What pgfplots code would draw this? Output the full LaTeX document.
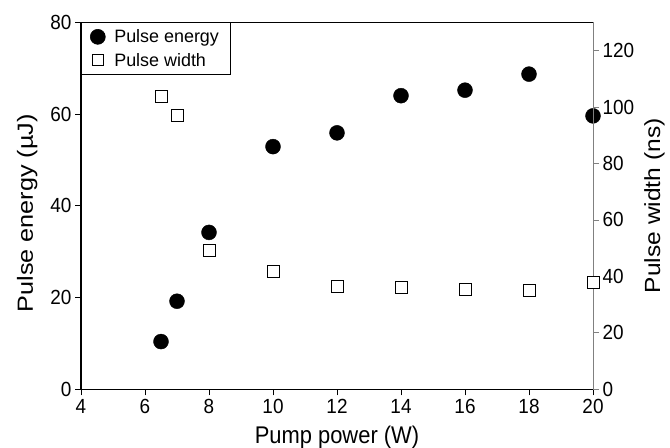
\documentclass[border=0pt]{standalone}
\usepackage{fontspec}
\setmainfont{Liberation Sans}
\usepackage{pgfplots}
\pgfplotsset{compat=1.18}
\begin{document}
\begin{tikzpicture}[x=1bp,y=1bp]
\useasboundingbox (0,0) rectangle (670,448);
\begin{axis}[
  at={(81bp,58.7bp)}, anchor=south west,
  scale only axis, width=512bp, height=367bp,
  xmin=4, xmax=20, ymin=0, ymax=80,
  xtick={4,6,...,20}, ytick={0,20,...,80},
  axis x line*=bottom, axis y line*=left,
  axis line style={line width=1.3bp, -},
  tick align=outside, major tick length=6bp,
  tick style={black, line width=0.8bp},
  /pgf/number format/assume math mode=true,
  tick label style={font=\fontsize{19}{22}\selectfont, yscale=1.08},
  xlabel={Pump power (W)}, ylabel={Pulse energy (µJ)},
  label style={font=\fontsize{22}{26}\selectfont},
  xlabel style={at={(axis description cs:0.5,-0.13)}, anchor=center, yscale=1.1},
  ylabel style={at={(axis description cs:-0.105,0.48)}, anchor=center, xscale=1.15},
  legend style={at={(0,1)}, anchor=north west, draw=black, line width=0.6bp,
    font=\fontsize{18}{21}\selectfont, inner xsep=9bp, inner ysep=5bp,
    row sep=5bp, column sep=7bp, cells={anchor=west}},
  legend cell align=left,
]
\addplot[only marks, mark=*, mark size=7.5bp, black] coordinates {
 (6.5,10.4) (7,19.2) (8,34.2) (10,52.9) (12,55.9) (14,64.0) (16,65.2) (18,68.7) (20,59.6)};
\addlegendentry{Pulse energy}
\addlegendimage{only marks, mark=square, mark size=5.5bp, black, mark options={line width=0.9bp}}
\addlegendentry{Pulse width}
\end{axis}
\begin{axis}[
  at={(81bp,58.7bp)}, anchor=south west,
  scale only axis, width=512bp, height=367bp,
  xmin=4, xmax=20, ymin=0, ymax=130,
  xtick=\empty, ytick={0,20,...,120},
  axis x line*=top, axis y line*=right,
  x axis line style={black, line width=0.8bp, -},
  y axis line style={gray, line width=0.8bp, -},
  tick align=outside, major tick length=6bp,
  tick style={gray, line width=0.8bp},
  /pgf/number format/assume math mode=true,
  tick label style={font=\fontsize{19}{22}\selectfont, yscale=1.08},
  ylabel={Pulse width (ns)},
  label style={font=\fontsize{22}{26}\selectfont},
  ylabel style={at={(axis description cs:1.12,0.5)}, anchor=center, xscale=1.12},
  clip=false,
]
\addplot[only marks, mark=square*, mark size=6bp, black, fill=white, mark options={line width=0.9bp, fill=white}] coordinates {
 (6.5,103.8) (7,96.9) (8,49.3) (10,41.8) (12,36.5) (14,36.0) (16,35.4) (18,34.9) (20,37.9)};
\end{axis}
\end{tikzpicture}
\end{document}
